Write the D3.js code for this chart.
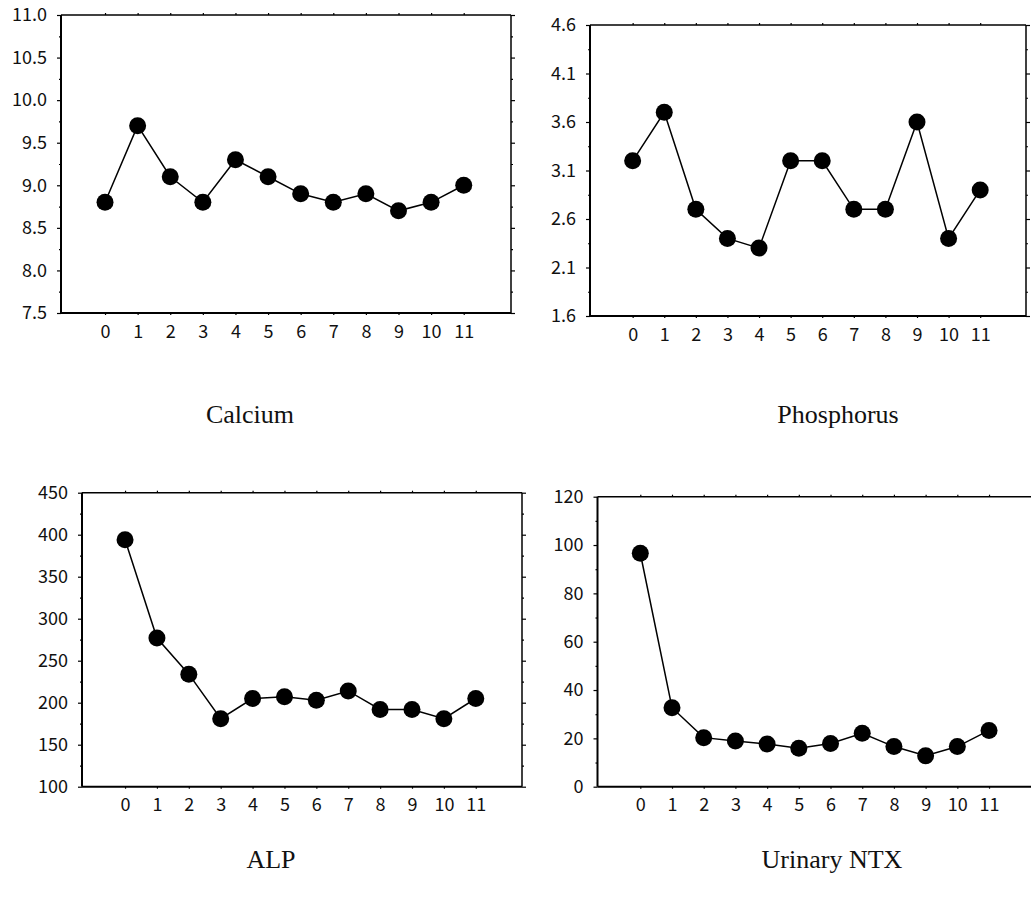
<!DOCTYPE html>
<html>
<head>
<meta charset="utf-8">
<script src="https://cdn.jsdelivr.net/npm/d3@7"></script>
<style>
  html, body { margin: 0; padding: 0; background: #fff; }
  svg { display: block; }
  .tick text { font-family: "Noto Sans CJK JP", "Noto Sans", sans-serif; font-size: 18px; fill: #111; }
  .title { font-family: "Liberation Serif", serif; font-size: 26px; fill: #111; }
</style>
</head>
<body>
<svg id="chart" width="1031" height="902"></svg>
<script>
// ---- data ----
const categories = ["0", "1", "2", "3", "4", "5", "6", "7", "8", "9", "10", "11"];
const calcium    = [8.8, 9.7, 9.1, 8.8, 9.3, 9.1, 8.9, 8.8, 8.9, 8.7, 8.8, 9.0];
const phosphorus = [3.2, 3.7, 2.7, 2.4, 2.3, 3.2, 3.2, 2.7, 2.7, 3.6, 2.4, 2.9];
const alp        = [394, 277, 234, 181, 205, 207, 203, 214, 192, 192, 181, 205];
const ntx        = [96.6, 32.7, 20.3, 18.9, 17.7, 15.9, 17.9, 22.1, 16.6, 12.8, 16.6, 23.3];

const calciumTicks    = [7.5, 8.0, 8.5, 9.0, 9.5, 10.0, 10.5, 11.0];
const phosphorusTicks = [1.6, 2.1, 2.6, 3.1, 3.6, 4.1, 4.6];
const alpTicks        = [100, 150, 200, 250, 300, 350, 400, 450];
const ntxTicks        = [0, 20, 40, 60, 80, 100, 120];

const titles = ["Calcium", "Phosphorus", "ALP", "Urinary NTX"];

// ---- layout ----
const panels = [
  { title: titles[0], values: calcium,    ticks: calciumTicks,    fmt: d3.format(".1f"),
    left: 61,  right: 511,  top: 15,    bottom: 313,   tx: 250, ty: 423 },
  { title: titles[1], values: phosphorus, ticks: phosphorusTicks, fmt: d3.format(".1f"),
    left: 590, right: 1026, top: 25,    bottom: 316,   tx: 838, ty: 423 },
  { title: titles[2], values: alp,        ticks: alpTicks,        fmt: d3.format("d"),
    left: 82,  right: 522,  top: 492.7, bottom: 786.7, tx: 271, ty: 868 },
  { title: titles[3], values: ntx,        ticks: ntxTicks,        fmt: d3.format("d"),
    left: 597.5, right: 1035, top: 496.7, bottom: 786.7, tx: 832, ty: 868 }
];

const svg = d3.select("#chart");
const idx = categories.map((c, i) => i);

panels.forEach(p => {
  const g = svg.append("g");
  const x = d3.scaleLinear().domain([-1.35, 12.45]).range([p.left, p.right]);
  const tmin = d3.min(p.ticks), tmax = d3.max(p.ticks);
  const y = d3.scaleLinear().domain([tmin, tmax]).range([p.bottom, p.top]);
  const minor = p.ticks.slice(0, -1).map((t, i) => (t + p.ticks[i + 1]) / 2);

  const style = sel => {
    sel.select(".domain").remove();
    sel.selectAll(".tick line").attr("stroke", "#000").attr("stroke-width", 1.2);
  };

  // left axis
  g.append("g").attr("transform", `translate(${p.left},0)`)
    .call(d3.axisLeft(y).tickValues(p.ticks).tickSize(4).tickPadding(10).tickFormat(p.fmt))
    .call(style)
    .call(s => s.selectAll("text").attr("font-family", null).attr("font-size", null));
  g.append("g").attr("transform", `translate(${p.left},0)`)
    .call(d3.axisLeft(y).tickValues(minor).tickSize(2).tickFormat(""))
    .call(style);

  // right axis
  g.append("g").attr("transform", `translate(${p.right},0)`)
    .call(d3.axisRight(y).tickValues(p.ticks).tickSize(4).tickFormat(""))
    .call(style);
  g.append("g").attr("transform", `translate(${p.right},0)`)
    .call(d3.axisRight(y).tickValues(minor).tickSize(2).tickFormat(""))
    .call(style);

  // top axis (category ticks)
  g.append("g").attr("transform", `translate(0,${p.top})`)
    .call(d3.axisTop(x).tickValues(idx).tickSize(2).tickFormat(""))
    .call(style);

  // bottom axis
  g.append("g").attr("transform", `translate(0,${p.bottom})`)
    .call(d3.axisBottom(x).tickValues(idx).tickSize(2).tickPadding(10).tickFormat(i => categories[i]))
    .call(style)
    .call(s => s.selectAll("text").attr("font-family", null).attr("font-size", null));

  // frame
  const frame = [
    { x1: p.left, y1: p.top, x2: p.right, y2: p.top, w: 1.5 },
    { x1: p.right, y1: p.top, x2: p.right, y2: p.bottom, w: 1.5 },
    { x1: p.left, y1: p.bottom, x2: p.right, y2: p.bottom, w: 2 },
    { x1: p.left, y1: p.top, x2: p.left, y2: p.bottom, w: 2 }
  ];
  g.selectAll("line.frame").data(frame).join("line").attr("class", "frame")
    .attr("x1", d => d.x1).attr("y1", d => d.y1).attr("x2", d => d.x2).attr("y2", d => d.y2)
    .attr("stroke", "#000").attr("stroke-width", d => d.w);

  // line
  const line = d3.line().x((d, i) => x(i)).y(d => y(d));
  g.append("path").datum(p.values).attr("d", line)
    .attr("fill", "none").attr("stroke", "#000").attr("stroke-width", 1.5);

  // dots
  g.selectAll("circle").data(p.values).join("circle")
    .attr("cx", (d, i) => x(i)).attr("cy", d => y(d)).attr("r", 8.5).attr("fill", "#000");

  // title
  svg.append("text").attr("class", "title").attr("x", p.tx).attr("y", p.ty)
    .attr("text-anchor", "middle").text(p.title);
});
</script>
</body>
</html>
